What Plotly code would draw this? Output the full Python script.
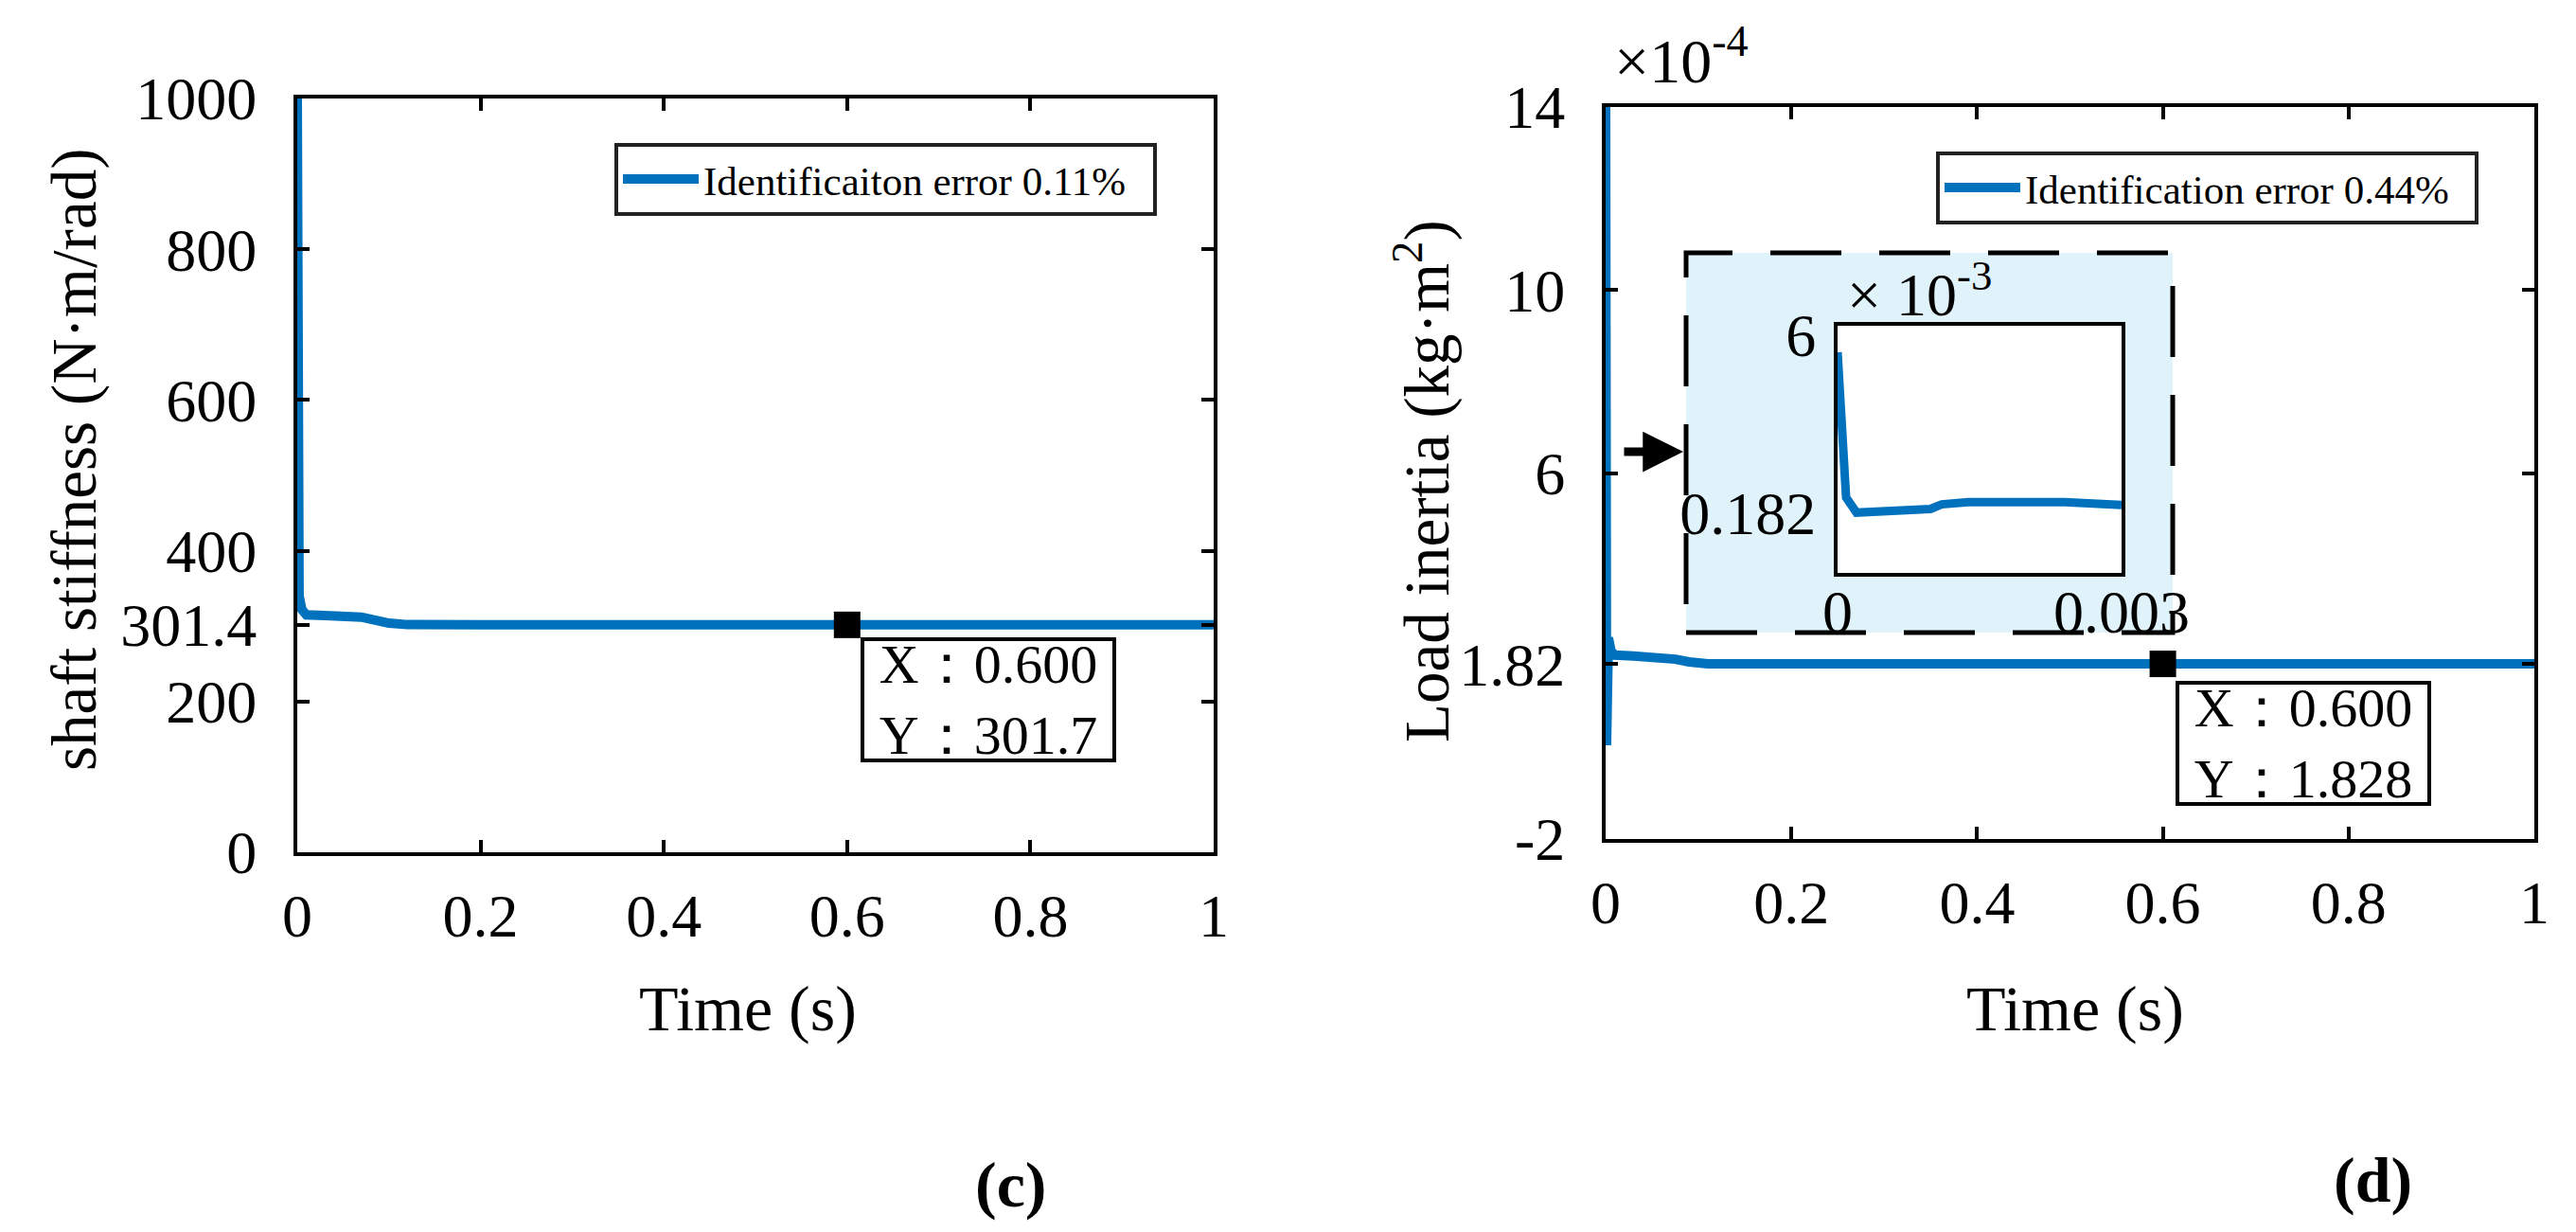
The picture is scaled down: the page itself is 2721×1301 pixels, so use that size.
import plotly.graph_objects as go

# ---------------- data ----------------
t_c = [0, 0.002, 0.005, 0.01, 0.03, 0.05, 0.07, 0.085, 0.1, 0.12, 0.3, 0.6, 1.0]
k_c = [1000, 340, 322, 315, 314, 313, 312, 308, 304, 302, 301.7, 301.7, 301.7]

t_d = [0, 0.001, 0.003, 0.006, 0.01, 0.03, 0.06, 0.075, 0.09, 0.11, 0.3, 0.6, 1.0]
j_d = [14, 0.05, 2.4, 2.1, 2.02, 2.0, 1.98, 1.93, 1.87, 1.83, 1.828, 1.828, 1.828]

t_in = [0, 0.00009, 0.0002, 0.0007, 0.00098, 0.0011, 0.00138, 0.0024, 0.003]
j_in = [5.44, 0.68, 0.18, 0.22, 0.30, 0.45, 0.52, 0.52, 0.43]

tip_c = (0.6, 301.7)
tip_d = (0.6, 1.828)

x_ticks = [0, 0.2, 0.4, 0.6, 0.8, 1]
x_ticktext = ["0", "0.2", "0.4", "0.6", "0.8", "1"]
yc_ticks = [0, 200, 301.4, 400, 600, 800, 1000]
yc_ticktext = ["0", "200", "301.4", "400", "600", "800", "1000"]
yd_ticks = [-2, 1.82, 6, 10, 14]
yd_ticktext = ["-2", "1.82", "6", "10", "14"]
in_xticks = [0, 0.003]
in_xticktext = ["0", "0.003"]
in_yticks = [0.182, 6]
in_yticktext = ["0.182", "6"]

name_c = "Identificaiton error 0.11%"
name_d = "Identification error 0.44%"

# ---------------- style ----------------
FONT = "Liberation Serif, Times New Roman, serif"
BLUE = "#0072BD"
W, H = 2721, 1301


def px(x):
    return x / W


def py(y):
    return 1 - y / H


fig = go.Figure()

fig.add_trace(go.Scatter(x=t_c, y=k_c, mode="lines", line=dict(color=BLUE, width=10),
                         name=name_c, xaxis="x", yaxis="y", legend="legend"))
fig.add_trace(go.Scatter(x=[tip_c[0]], y=[tip_c[1]], mode="markers",
                         marker=dict(symbol="square", size=28, color="black"),
                         showlegend=False, xaxis="x", yaxis="y"))

fig.add_trace(go.Scatter(x=t_d, y=j_d, mode="lines", line=dict(color=BLUE, width=10),
                         name=name_d, xaxis="x2", yaxis="y2", legend="legend2"))
fig.add_trace(go.Scatter(x=[tip_d[0]], y=[tip_d[1]], mode="markers",
                         marker=dict(symbol="square", size=28, color="black"),
                         showlegend=False, xaxis="x2", yaxis="y2"))

fig.add_trace(go.Scatter(x=t_in, y=j_in, mode="lines", line=dict(color=BLUE, width=9),
                         showlegend=False, xaxis="x3", yaxis="y3"))

tickfont = dict(family=FONT, size=64, color="black")
axis_common = dict(showline=True, linecolor="black", linewidth=4, mirror="ticks",
                   ticks="inside", ticklen=13, tickwidth=4, tickcolor="black",
                   showgrid=False, zeroline=False, automargin=False, tickfont=tickfont)
inset_common = dict(showline=True, mirror=True, linecolor="black", linewidth=4, ticks="",
                    showgrid=False, zeroline=False, automargin=False, tickfont=tickfont)

legend_common = dict(xanchor="left", yanchor="middle", orientation="h",
                     bordercolor="#222222", borderwidth=4, bgcolor="white",
                     font=dict(family=FONT, size=43, color="black"),
                     itemwidth=80, entrywidth=470, entrywidthmode="pixels")

fig.update_layout(
    template="none",
    width=W, height=H,
    margin=dict(l=0, r=0, t=0, b=0, autoexpand=False),
    paper_bgcolor="white", plot_bgcolor="white",
    font=dict(family=FONT, color="black"),
    xaxis=dict(domain=[px(306), px(1274)], anchor="y", range=[0, 1],
               tickvals=x_ticks, ticktext=x_ticktext, ticklabelstandoff=8, **axis_common),
    yaxis=dict(domain=[py(892), py(96)], anchor="x", range=[0, 1000],
               tickvals=yc_ticks, ticktext=yc_ticktext, ticklabelstandoff=26, **axis_common),
    xaxis2=dict(domain=[px(1688), px(2669)], anchor="y2", range=[0, 1],
                tickvals=x_ticks, ticktext=x_ticktext, ticklabelstandoff=8, **axis_common),
    yaxis2=dict(domain=[py(878), py(105)], anchor="x2", range=[-2, 14],
                tickvals=yd_ticks, ticktext=yd_ticktext, ticklabelstandoff=26, **axis_common),
    xaxis3=dict(domain=[px(1933), px(2233)], anchor="y3", range=[0, 0.003],
                tickvals=in_xticks, ticktext=in_xticktext, ticklabelstandoff=-18,
                **inset_common),
    yaxis3=dict(domain=[py(597), py(336)], anchor="x3", range=[-1.80, 6.31],
                tickvals=in_yticks, ticktext=in_yticktext, ticklabelstandoff=6,
                **inset_common),
    legend=dict(x=px(641), y=py(181), **legend_common),
    legend2=dict(x=px(2037), y=py(190), **legend_common),
)

# inset background (dashed light-blue box) and white inner plot area
fig.add_shape(type="rect", xref="paper", yref="paper",
              x0=px(1773), x1=px(2287), y0=py(660), y1=py(259),
              fillcolor="#E0F3FA", line=dict(color="black", width=5, dash="75px,40px"),
              layer="below")
fig.add_shape(type="rect", xref="x3 domain", yref="y3 domain", x0=0, x1=1, y0=0, y1=1,
              fillcolor="white", line=dict(width=0), layer="below")


def text_ann(text, x, y, size, **kw):
    d = dict(text=text, x=px(x), y=py(y), xref="paper", yref="paper", showarrow=False,
             xanchor="center", yanchor="middle", font=dict(family=FONT, size=size, color="black"))
    d.update(kw)
    return d


anns = [
    text_ann("Time (s)", 782, 1057, 68),
    text_ann("Time (s)", 2184, 1057, 68),
    text_ann("shaft stiffness (N·m/rad)", 70, 478, 67, textangle=-90),
    text_ann("Load inertia (kg·m<sup>2</sup>)", 1495, 500, 67, textangle=-90),
    text_ann("×10<sup>-4</sup>", 1695, 52, 66, xanchor="left"),
    text_ann("× 10<sup>-3</sup>", 1941, 298, 64, xanchor="left"),
    text_ann("<b>(c)</b>", 1059, 1243, 68),
    text_ann("<b>(d)</b>", 2498, 1238, 68),
    text_ann(f"X：{tip_c[0]:.3f}<br>Y：{tip_c[1]:.1f}", 1036, 731, 58, align="center",
             width=262, height=124, borderpad=0, bordercolor="black", borderwidth=4,
             bgcolor="white"),
    text_ann(f"X：{tip_d[0]:.3f}<br>Y：{tip_d[1]:.3f}", 2425, 777, 58, align="center",
             width=262, height=124, borderpad=0, bordercolor="black", borderwidth=4,
             bgcolor="white"),
    dict(text="", x=px(1770), y=py(469), xref="paper", yref="paper",
         ax=-64, ay=0, axref="pixel", ayref="pixel", showarrow=True,
         arrowhead=2, arrowsize=0.95, arrowwidth=9, arrowcolor="black"),
]
fig.update_layout(annotations=anns)

fig.write_html("out.html")
